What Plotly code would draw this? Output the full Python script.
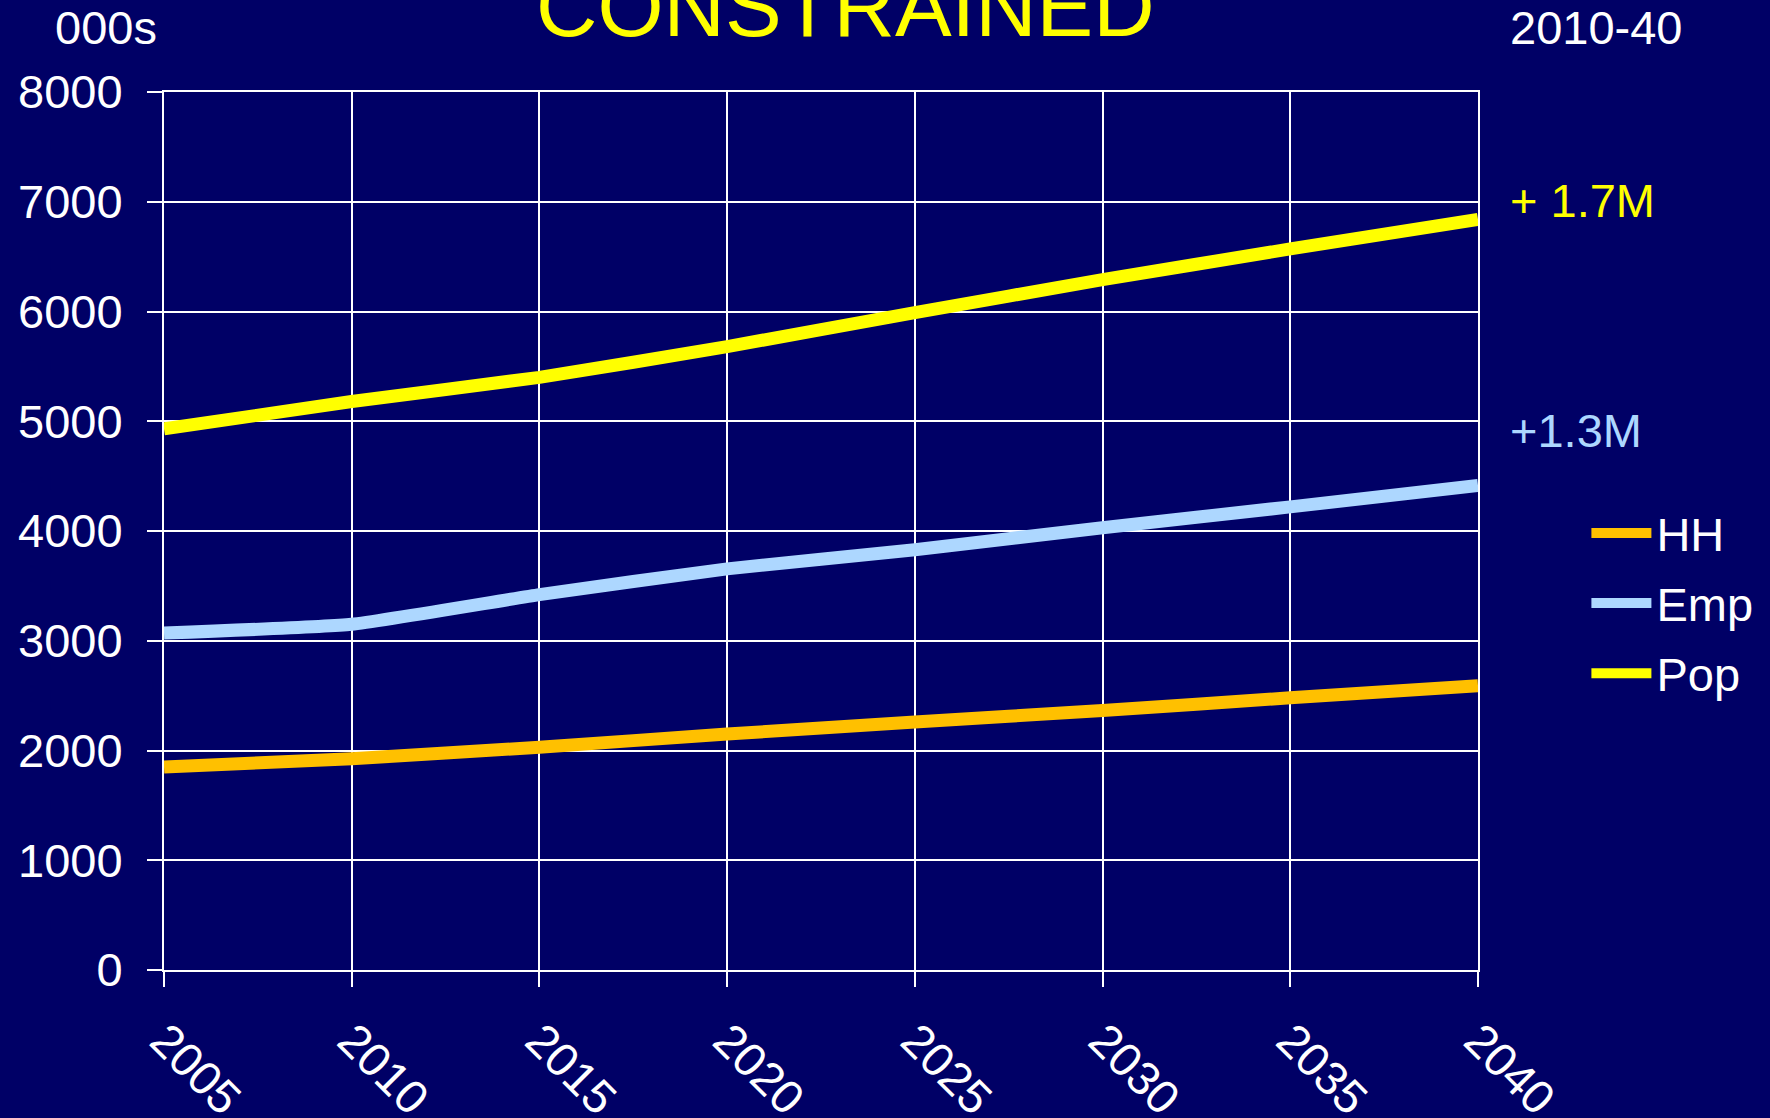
import plotly.graph_objects as go

years = [2005, 2010, 2015, 2020, 2025, 2030, 2035, 2040]
hh = [1850, 1925, 2030, 2150, 2260, 2365, 2480, 2590]
emp = [3070, 3150, 3420, 3655, 3830, 4030, 4220, 4415]
pop = [4930, 5180, 5400, 5680, 5990, 6290, 6570, 6840]

series_names = ["HH", "Emp", "Pop"]
series_colors = ["#FFC000", "#ADD7FF", "#FFFF00"]

bg = "#000066"
font_family = "Arial, Liberation Sans, sans-serif"

fig = go.Figure()

for name, values, color in zip(series_names, [hh, emp, pop], series_colors):
    fig.add_trace(
        go.Scatter(
            x=years,
            y=values,
            mode="lines",
            name=name,
            legendgroup=name,
            line=dict(color=color, width=13, shape="spline", smoothing=0.4),
        )
    )

fig.update_layout(
    width=1770,
    height=1118,
    paper_bgcolor=bg,
    plot_bgcolor=bg,
    font=dict(family=font_family, size=47, color="white"),
    margin=dict(l=164, r=292, t=92, b=148, autoexpand=False),
    showlegend=True,
    legend=dict(
        x=1.0825,
        y=0.54,
        xanchor="left",
        yanchor="top",
        bgcolor="rgba(0,0,0,0)",
        font=dict(size=47, color="white"),
        itemwidth=60,
        tracegroupgap=6,
        traceorder="grouped",
    ),
)

axis_style = dict(
    ticks="outside",
    ticklen=15,
    tickwidth=2,
    tickcolor="white",
    showgrid=True,
    gridcolor="white",
    gridwidth=2,
    zeroline=False,
    showline=True,
    linecolor="white",
    linewidth=2,
    mirror=True,
    automargin=False,
)

fig.update_xaxes(
    range=[2005, 2040],
    tickvals=years,
    ticktext=[str(y) for y in years],
    tickangle=45,
    ticklabelstandoff=7,
    **axis_style,
)

fig.update_yaxes(
    range=[0, 8000],
    dtick=1000,
    ticklabelstandoff=15,
    **axis_style,
)

annotations = [
    dict(text="CONSTRAINED", x=0.519, y=1.097, font=dict(size=85, color="#FFFF00"), xanchor="center"),
    dict(text="000s", x=-0.0845, y=1.0734, font=dict(size=47, color="white"), xanchor="left"),
    dict(text="2010-40", x=1.0225, y=1.0734, font=dict(size=47, color="white"), xanchor="left"),
    dict(text="+ 1.7M", x=1.0225, y=0.8765, font=dict(size=47, color="#FFFF00"), xanchor="left"),
    dict(text="+1.3M", x=1.0225, y=0.6147, font=dict(size=47, color="#ADD7FF"), xanchor="left"),
]
for a in annotations:
    fig.add_annotation(
        xref="paper", yref="paper", yanchor="middle", showarrow=False, **a
    )

fig.write_html(
    "out.html",
    config={"displayModeBar": False},
    post_script="document.body.style.margin='0';document.body.style.background='#000066';",
)
